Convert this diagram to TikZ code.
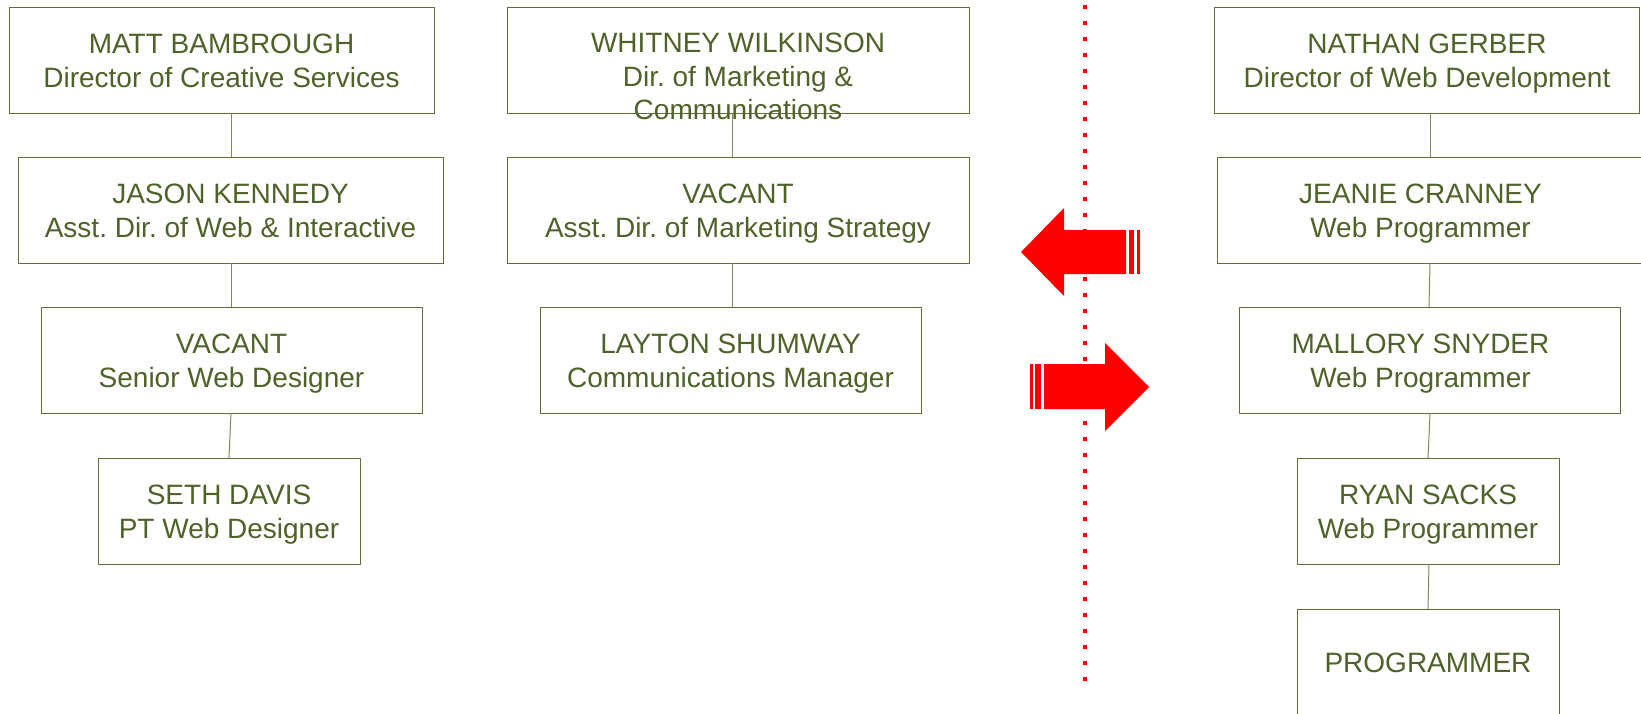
\documentclass[tikz,border=0pt]{standalone}
\usepackage{fontspec}
\setmainfont{Liberation Sans}
\frenchspacing
\definecolor{olivetxt}{HTML}{4F6228}
\definecolor{oliveln}{HTML}{5E7033}
\definecolor{oliveconn}{HTML}{7D8C5A}
\definecolor{arrred}{HTML}{FF0000}
\begin{document}
\begin{tikzpicture}[x=1pt,y=-1pt,
  box/.style={draw=oliveln, line width=1pt, inner sep=0pt, outer sep=0pt, minimum height=106pt},
  txt/.style={anchor=base, text=olivetxt, inner sep=0pt, font=\fontsize{28pt}{34pt}\selectfont\frenchspacing},
  conn/.style={draw=oliveconn, line width=1pt},
  redfill/.style={fill=arrred, draw=none}]
\useasboundingbox (0,0) rectangle (1641,713);
\fill[white] (0,0) rectangle (1641,713);

% ---------- column 1 ----------
\node[box, minimum width=425pt] (matt) at (221.5,60) {};
\node[txt] (matt-a) at ([yshift=7pt]matt.center) {MATT BAMBROUGH};
\node[txt] (matt-b) at ([yshift=-27pt]matt.center) {Director of Creative Services};

\node[box, minimum width=425pt] (jason) at (230.5,210) {};
\node[txt] (jason-a) at ([yshift=7pt]jason.center) {JASON KENNEDY};
\node[txt] (jason-b) at ([yshift=-27pt]jason.center) {Asst. Dir. of Web \& Interactive};

\node[box, minimum width=381pt] (vsr) at (231.5,360) {};
\node[txt] (vsr-a) at ([yshift=7pt]vsr.center) {VACANT};
\node[txt] (vsr-b) at ([yshift=-27pt]vsr.center) {Senior Web Designer};

\node[box, minimum width=262pt] (seth) at (229,511) {};
\node[txt] (seth-a) at ([yshift=7pt]seth.center) {SETH DAVIS};
\node[txt] (seth-b) at ([yshift=-27pt]seth.center) {PT Web Designer};

\draw[conn] ([xshift=9.5pt]matt.south) -- ([xshift=0.5pt]jason.north);
\draw[conn] ([xshift=0.5pt]jason.south) -- ([xshift=-0.5pt]vsr.north);
\draw[conn] ([xshift=-0.5pt]vsr.south) -- (seth.north);

% ---------- column 2 ----------
\node[box, minimum width=462pt] (whit) at (738,60) {};
\node[txt] (whit-a) at ([yshift=8pt]whit.center) {WHITNEY WILKINSON};
\node[txt] (whit-b) at ([yshift=-26pt]whit.center) {Dir. of Marketing \&};
\node[txt] (whit-c) at ([yshift=-59pt]whit.center) {Communications};

\node[box, minimum width=462pt] (vasst) at (738,210) {};
\node[txt] (vasst-a) at ([yshift=7pt]vasst.center) {VACANT};
\node[txt] (vasst-b) at ([yshift=-27pt]vasst.center) {Asst. Dir. of Marketing Strategy};

\node[box, minimum width=381pt] (layton) at (730.5,360) {};
\node[txt] (layton-a) at ([yshift=7pt]layton.center) {LAYTON SHUMWAY};
\node[txt] (layton-b) at ([yshift=-27pt]layton.center) {Communications Manager};

\draw[conn] ([xshift=-6pt]whit.south) -- ([xshift=-6pt]vasst.north);
\draw[conn] ([xshift=-6pt]vasst.south) -- ([xshift=1.5pt]layton.north);

% ---------- column 3 ----------
\node[box, minimum width=425pt] (nathan) at (1427,60) {};
\node[txt] (nathan-a) at ([yshift=7pt]nathan.center) {NATHAN GERBER};
\node[txt] (nathan-b) at ([yshift=-27pt]nathan.center) {Director of Web Development};

\node[box, minimum width=425pt] (jeanie) at (1429.5,210) {};
\node[txt] (jeanie-a) at ([yshift=7pt,xshift=-9pt]jeanie.center) {JEANIE CRANNEY};
\node[txt] (jeanie-b) at ([yshift=-27pt,xshift=-9pt]jeanie.center) {Web Programmer};

\node[box, minimum width=381pt] (mallory) at (1429.5,360) {};
\node[txt] (mallory-a) at ([yshift=7pt,xshift=-9pt]mallory.center) {MALLORY SNYDER};
\node[txt] (mallory-b) at ([yshift=-27pt,xshift=-9pt]mallory.center) {Web Programmer};

\node[box, minimum width=262pt] (ryan) at (1428,511) {};
\node[txt] (ryan-a) at ([yshift=7pt]ryan.center) {RYAN SACKS};
\node[txt] (ryan-b) at ([yshift=-27pt]ryan.center) {Web Programmer};

\node[box, minimum width=262pt] (prog) at (1428,662) {};
\node[txt] (prog-a) at ([yshift=-10pt]prog.center) {PROGRAMMER};

\draw[conn] ([xshift=3pt]nathan.south) -- ([xshift=0.5pt]jeanie.north);
\draw[conn] ([xshift=0.5pt]jeanie.south) -- ([xshift=-0.5pt]mallory.north);
\draw[conn] ([xshift=0.5pt]mallory.south) -- (ryan.north);
\draw[conn] ([xshift=1pt]ryan.south) -- (prog.north);

% ---------- dotted divider ----------
\coordinate (dtop) at (1085,4.75);
\coordinate (dbot) at (1085,681.5);
\draw[arrred, line width=4.5pt, line cap=butt, dash pattern=on 4.5pt off 11.5pt] (dtop) -- (dbot);

% ---------- left arrow ----------
\fill[redfill] (1021,252) -- (1064,208) -- (1064,230) -- (1126,230) -- (1126,274)
  -- (1064,274) -- (1064,296) -- cycle;
\fill[redfill] (1129,230) rectangle (1134,274);
\fill[redfill] (1137,230) rectangle (1140,274);

% ---------- right arrow ----------
\fill[redfill] (1149,387) -- (1105,343) -- (1105,364) -- (1044,364) -- (1044,409)
  -- (1105,409) -- (1105,431) -- cycle;
\fill[redfill] (1030,364) rectangle (1033,409);
\fill[redfill] (1035,364) rectangle (1041,409);
\end{tikzpicture}
\end{document}
